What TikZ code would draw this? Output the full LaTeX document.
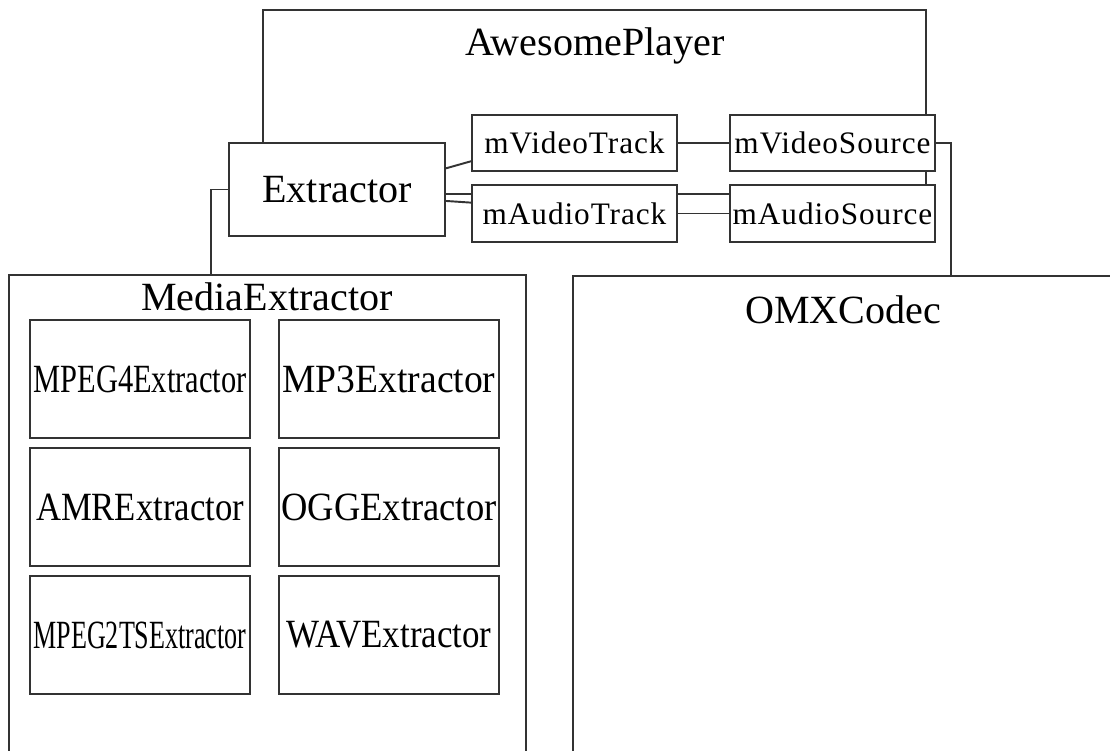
\documentclass[tikz,border=0pt]{standalone}
\usepackage{fontspec}
\setmainfont{Liberation Serif}
\newfontfamily\memberfont[LetterSpace=3]{Liberation Serif}
\usetikzlibrary{positioning}

% squeeze a label to a given width, keeping its height
\newcommand{\squeeze}[2]{\resizebox{#1}{\height}{#2}}

\begin{document}
\begin{tikzpicture}[
    x=0.02cm, y=-0.02cm,
    every node/.style={font=\fontsize{22.8}{26}\selectfont},
    box/.style={rectangle, draw=black!80, line width=1.1pt, fill=white, inner sep=0pt, text centered},
    player/.style={box, minimum width=13.26cm, minimum height=3.68cm},
    reader/.style={box, minimum width=4.32cm, minimum height=1.86cm},
    member/.style={box, minimum width=4.1cm, minimum height=1.13cm, font=\memberfont\fontsize{17.8}{19}\selectfont},
    container/.style={box, minimum height=10.5cm},
    parser/.style={box, minimum width=4.4cm, minimum height=2.36cm},
    title/.style={inner sep=0pt},
    link/.style={draw=black!80, line width=1.1pt}
]
\clip (0,0) rectangle (1110,751);

% Player frame (lower part hidden behind its members)
\node[player] (awesome) at (594.5,102) {};
\node[title] (playertitle) at (595,46) {AwesomePlayer};

% Extractor and the track / source members
\node[reader] (extractor) at (337,189.5) {Extractor};
\node[member] (mvideotrack) at (574.5,143) {mVideoTrack};
\node[member] (maudiotrack) at (574.5,213.5) {mAudioTrack};
\node[member] (mvideosource) at (832.5,143) {mVideoSource};
\node[member] (maudiosource) at (832.5,213.5) {mAudioSource};

% Containers below
\node[container, minimum width=10.34cm] (mediaextractor) at (267.5,537.5) {};
\node[title] (mediatitle) at (267,297) {MediaExtractor};
\node[container, minimum width=12.54cm] (omxcodec) at (886.5,538.5) {};
\node[title] (omxtitle) at (843,310) {OMXCodec};

% Extractor implementations
\node[parser] (mpeg4) at (140,379) {\squeeze{4.26cm}{MPEG4Extractor}};
\node[parser] (mp3) at (389,379) {\squeeze{4.26cm}{MP3Extractor}};
\node[parser] (amr) at (140,507) {\squeeze{4.16cm}{AMRExtractor}};
\node[parser] (ogg) at (389,507) {\squeeze{4.3cm}{OGGExtractor}};
\node[parser] (mpeg2ts) at (140,635) {\squeeze{4.26cm}{MPEG2TSExtractor}};
\node[parser] (wav) at (389,635) {\squeeze{4.1cm}{WAVExtractor}};

% Links between members
\draw[link] (extractor.11) -- (mvideotrack.190);
\draw[link] (extractor.-6) -- (maudiotrack.174);
\draw[link] (mvideotrack) -- (mvideosource);
\draw[link] (maudiotrack) -- (maudiosource);

% Links down to the containers
\draw[link] (extractor.west) -- ++(-17,0) coordinate (ebend) -- (ebend |- mediaextractor.north);
\draw[link] (mvideosource.east) -- ++(15,0) coordinate (vbend) -- (vbend |- omxcodec.north);

\end{tikzpicture}
\end{document}
